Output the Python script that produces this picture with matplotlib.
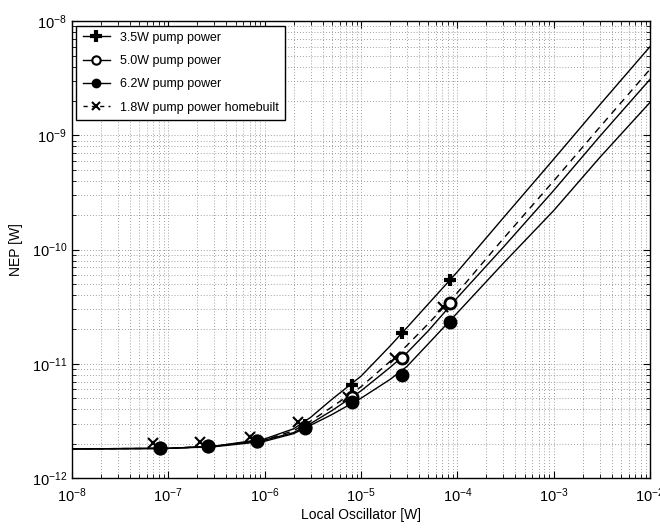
import numpy as np
import matplotlib
matplotlib.use("Agg")
import matplotlib.pyplot as plt
from matplotlib.lines import Line2D
from matplotlib.ticker import FixedLocator, LogLocator, NullFormatter

plt.rcParams["font.family"] = ["Liberation Sans", "DejaVu Sans"]
plt.rcParams["mathtext.fontset"] = "custom"
plt.rcParams["mathtext.rm"] = "Liberation Sans"

# curve samples
curve_x = [1e-8, 1e-7, 3e-7, 1e-6, 2e-6, 3e-6, 5e-6, 1e-5, 2e-5, 3e-5, 5e-5,
           1e-4, 3e-4, 1e-3, 3e-3, 1e-2]
curve_35 = [1.8e-12, 1.82e-12, 1.9e-12, 2.2e-12, 2.7e-12, 3.4e-12, 4.9e-12, 7.8e-12,
            1.43e-11, 2.08e-11, 3.35e-11, 6.4e-11, 1.9e-10, 6.2e-10, 1.85e-9, 6.0e-9]
curve_18 = [1.8e-12, 1.82e-12, 1.9e-12, 2.15e-12, 2.6e-12, 3.15e-12, 4.2e-12, 6.3e-12,
            1.05e-11, 1.45e-11, 2.25e-11, 4.2e-11, 1.25e-10, 4.0e-10, 1.18e-9, 3.8e-9]
curve_50 = [1.8e-12, 1.82e-12, 1.9e-12, 2.15e-12, 2.5e-12, 3.0e-12, 3.9e-12, 5.8e-12,
            9.3e-12, 1.25e-11, 1.95e-11, 3.8e-11, 1.05e-10, 3.3e-10, 9.8e-10, 3.1e-9]
curve_62 = [1.8e-12, 1.82e-12, 1.88e-12, 2.1e-12, 2.45e-12, 2.9e-12, 3.6e-12, 5.0e-12,
            7.3e-12, 9.5e-12, 1.5e-11, 2.8e-11, 7.6e-11, 2.2e-10, 6.4e-10, 1.95e-9]

# measured points
lo_x = [8.2e-8, 2.57e-7, 8.3e-7, 2.6e-6, 8.07e-6, 2.67e-5, 8.4e-5]
meas_35 = [1.83e-12, 1.9e-12, 2.12e-12, 2.9e-12, 6.5e-12, 1.86e-11, 5.4e-11]
meas_50 = [1.83e-12, 1.9e-12, 2.11e-12, 2.8e-12, 5.1e-12, 1.12e-11, 3.4e-11]
meas_62 = [1.83e-12, 1.9e-12, 2.11e-12, 2.74e-12, 4.6e-12, 7.97e-12, 2.32e-11]
hb_x = [6.9e-8, 2.13e-7, 7.0e-7, 2.2e-6, 7.3e-6, 2.25e-5, 7.1e-5]
meas_18 = [2.02e-12, 2.07e-12, 2.29e-12, 3.1e-12, 5.1e-12, 1.12e-11, 3.14e-11]

labels = ["3.5W pump power", "5.0W pump power", "6.2W pump power", "1.8W pump power homebuilt"]

fig = plt.figure(figsize=(6.6, 5.3), dpi=100)
ax = fig.add_axes([0.109, 0.098, 0.876, 0.862])

ax.plot(curve_x, curve_35, color="k", lw=1.0)
ax.plot(curve_x, curve_18, color="k", lw=1.0, ls=(0, (5, 4)))
ax.plot(curve_x, curve_50, color="k", lw=1.0)
ax.plot(curve_x, curve_62, color="k", lw=1.0)

ax.plot(hb_x, meas_18, "x", color="k", ms=7, mew=1.5)
ax.plot(lo_x, meas_35, "+", color="k", ms=9, mew=3)
ax.plot(lo_x, meas_50, "o", mfc="white", mec="k", ms=8, mew=2)
ax.plot(lo_x, meas_62, "o", color="k", ms=9)

ax.set_xscale("log")
ax.set_yscale("log")
ax.set_xlim(1e-8, 1e-2)
ax.set_ylim(1e-12, 1e-8)

xt = [1e-8, 1e-7, 1e-6, 1e-5, 1e-4, 1e-3, 1e-2]
yt = [1e-12, 1e-11, 1e-10, 1e-9, 1e-8]
ax.xaxis.set_major_locator(FixedLocator(xt))
ax.yaxis.set_major_locator(FixedLocator(yt))
ax.set_xticklabels([r"$\mathregular{10^{%d}}$" % int(np.log10(v)) for v in xt])
ax.set_yticklabels([r"$\mathregular{10^{%d}}$" % int(np.log10(v)) for v in yt])
ax.xaxis.set_minor_locator(LogLocator(base=10, subs=np.arange(2, 10), numticks=20))
ax.yaxis.set_minor_locator(LogLocator(base=10, subs=np.arange(2, 10), numticks=20))
ax.xaxis.set_minor_formatter(NullFormatter())
ax.yaxis.set_minor_formatter(NullFormatter())

ax.tick_params(which="both", direction="in", top=True, right=True, labelsize=10.5)
ax.tick_params(which="major", length=5)
ax.tick_params(which="minor", length=3)
ax.tick_params(axis="x", pad=6)

ax.grid(True, which="both", color="0.5", ls=(0, (1, 2.5)), lw=0.6)
for s in ax.spines.values():
    s.set_linewidth(1.0)

ax.set_xlabel("Local Oscillator [W]", fontsize=10, labelpad=2)
ax.set_ylabel("NEP [W]", fontsize=10, labelpad=6)

handles = [
    Line2D([], [], color="k", lw=1, marker="+", ms=9, mew=3),
    Line2D([], [], color="k", lw=1, marker="o", mfc="white", mec="k", ms=6, mew=1.5),
    Line2D([], [], color="k", lw=1, marker="o", ms=6),
    Line2D([], [], color="k", lw=1, ls=(0, (3, 3)), marker="x", ms=6, mew=1.5),
]
leg = ax.legend(handles, labels, loc="upper left", fontsize=9, fancybox=False,
                edgecolor="k", framealpha=1, handlelength=2.2, labelspacing=0.9,
                borderaxespad=0.35, borderpad=0.5)
leg.get_frame().set_linewidth(1.0)

fig.savefig("out.png", dpi=100)
plt.close(fig)
